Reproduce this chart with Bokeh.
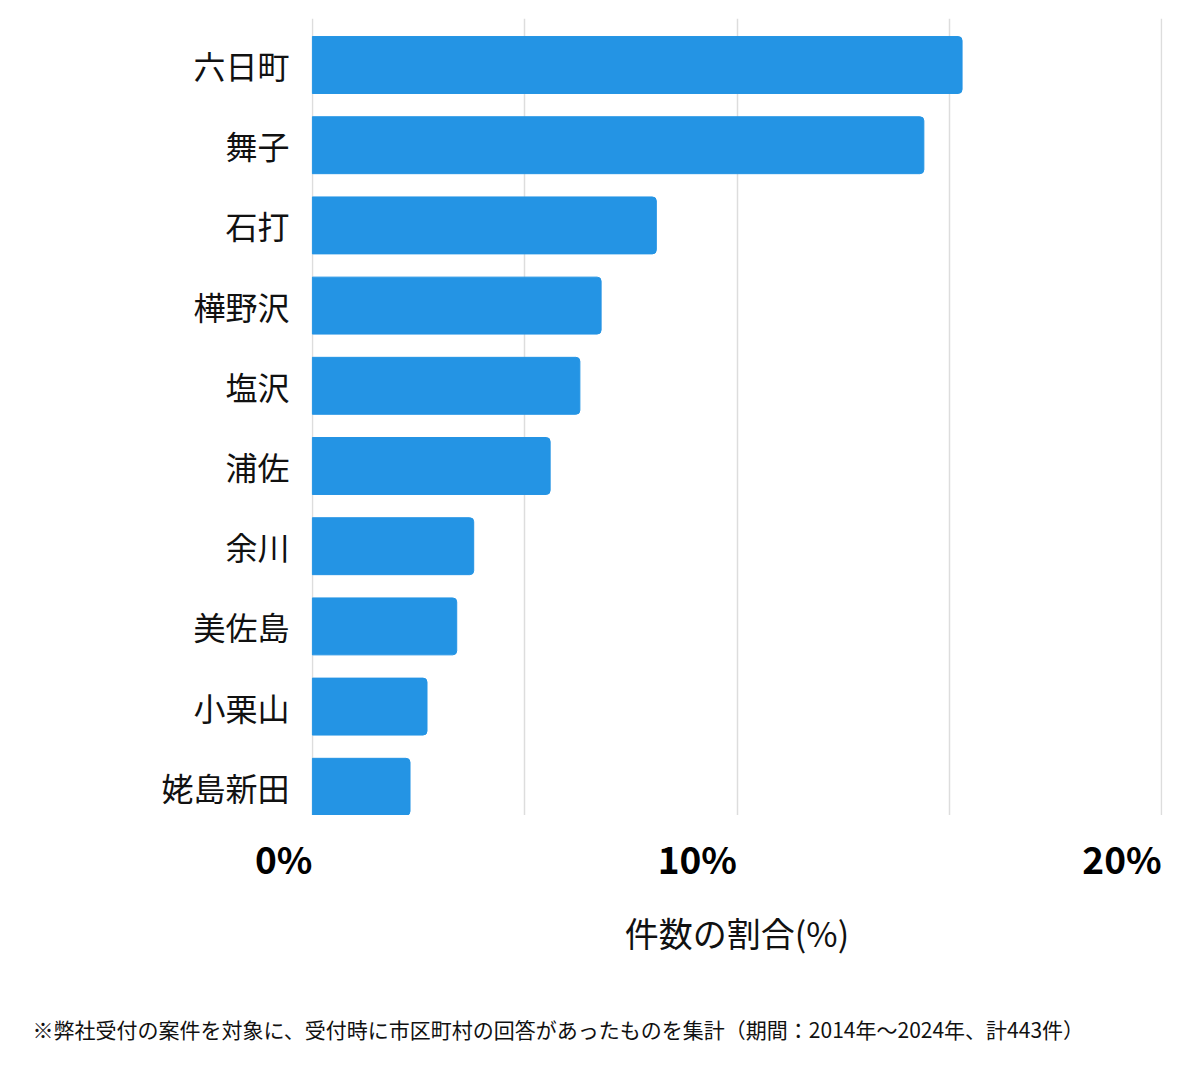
from bokeh.plotting import figure
from bokeh.models import Range1d, FixedTicker, ColumnDataSource
from bokeh.core.properties import value
from bokeh.embed import file_html
from bokeh.resources import INLINE

categories = ["六日町", "舞子", "石打", "樺野沢", "塩沢", "浦佐", "余川", "美佐島", "小栗山", "姥島新田"]
shares = [15.3, 14.4, 8.1, 6.8, 6.3, 5.6, 3.8, 3.4, 2.7, 2.3]
x_ticks = [0, 10, 20]
x_tick_labels = ["0%", "10%", "20%"]
grid_ticks = [0, 5, 10, 15, 20]
x_title = "件数の割合(%)"
footnote = "※弊社受付の案件を対象に、受付時に市区町村の回答があったものを集計（期間：2014年～2024年、計443件）"

FONT = "Noto Sans CJK JP"
n = len(categories)
ypos = [n - 1 - i for i in range(n)]

W = 1184
LEFT, RIGHT, TOP = 311, 22, 18
MAIN_H = 815
BOT_H = 245
X0, X1 = -0.02, 20.02

# ---------------- main chart ----------------
p = figure(width=W, height=MAIN_H, output_backend="svg", toolbar_location=None,
           x_range=Range1d(X0, X1), y_range=Range1d(-0.358, n - 1 + 0.58),
           x_axis_location=None,
           min_border_left=LEFT, min_border_right=RIGHT, min_border_top=TOP, min_border_bottom=0)
p.outline_line_color = None
p.background_fill_color = "white"
p.border_fill_color = "white"

p.hbar(y=ypos, right=shares, left=0, height=0.71, color="#2494E4",
       border_radius=(0, 4, 4, 0))

ya = p.yaxis[0]
ya.ticker = FixedTicker(ticks=ypos)
ya.major_label_overrides = {y: c for y, c in zip(ypos, categories)}
ya.major_label_text_font = FONT
ya.major_label_text_font_size = "32px"
ya.major_label_text_color = "#111111"
ya.major_label_standoff = 16
ya.major_tick_line_color = None
ya.minor_tick_line_color = None
ya.axis_line_color = None

p.ygrid.grid_line_color = None
p.xgrid.ticker = FixedTicker(ticks=grid_ticks)
p.xgrid.grid_line_color = "#dddddd"
p.xgrid.grid_line_width = 1.5

# ---------------- x-axis labels, title and footnote (same x scale, full-width frame) ----------------
px_per_unit = (W - LEFT - RIGHT) / (X1 - X0)
bx0 = X0 - LEFT / px_per_unit
bx1 = X1 + RIGHT / px_per_unit

q = figure(width=W, height=BOT_H, output_backend="svg", toolbar_location=None,
           x_range=Range1d(bx0, bx1), y_range=Range1d(BOT_H, 0),
           x_axis_location=None, y_axis_location=None,
           min_border_left=0, min_border_right=0, min_border_top=0, min_border_bottom=0)
q.outline_line_color = None
q.background_fill_color = "white"
q.border_fill_color = "white"
q.xgrid.visible = False
q.ygrid.visible = False

tick_src = ColumnDataSource(dict(x=x_ticks, text=x_tick_labels))
q.text(x="x", y=42, text="text", source=tick_src, text_align="right",
       text_baseline="middle", text_font=value(FONT), text_font_size="37px",
       text_font_style="bold", text_color="#000000")

q.text(x=[(x_ticks[0] + x_ticks[-1]) / 2], y=[117], text=[x_title], text_align="center",
       text_baseline="middle", text_font=value(FONT), text_font_size="34px",
       text_color="#111111")

q.text(x=[bx0 + 32 / px_per_unit], y=[213], text=[footnote], text_align="left",
       text_baseline="middle", text_font=value(FONT), text_font_size="21px",
       text_color="#111111")

# two separate roots, stacked (so the frames are not aligned to each other)
open("out.html", "w").write(file_html([p, q], INLINE))
